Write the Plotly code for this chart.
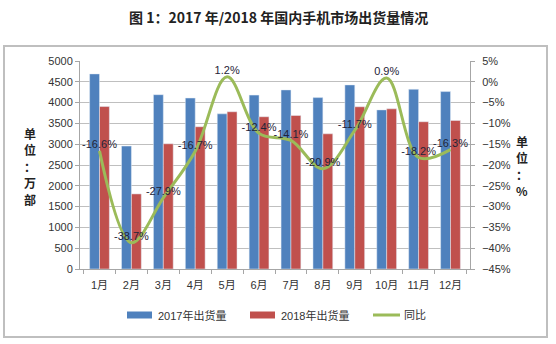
import plotly.graph_objects as go

months = ["1月", "2月", "3月", "4月", "5月", "6月", "7月", "8月", "9月", "10月", "11月", "12月"]
ship_2017 = [4690, 2955, 4190, 4110, 3730, 4180, 4305, 4120, 4425, 3825, 4320, 4265]
ship_2018 = [3905, 1805, 3010, 3420, 3780, 3660, 3690, 3250, 3900, 3850, 3540, 3570]
yoy = [-16.6, -38.7, -27.9, -16.7, 1.2, -12.4, -14.1, -20.9, -11.7, 0.9, -18.2, -16.3]
yoy_labels = [f"{v:.1f}%" for v in yoy]
series_names = ["2017年出货量", "2018年出货量", "同比"]
series_colors = ["#4F81BD", "#C0504D", "#9BBB59"]

FONT = "Liberation Sans, Noto Sans CJK SC, sans-serif"
CJK = "Noto Sans CJK SC"

# plot area in pixels: x 80..470, y 61..269
L, R, T, B = 80, 470, 61, 269
def px(x):
    return (x - L) / (R - L)
def py(y):
    return (B - y) / (B - T)

fig = go.Figure()
fig.add_trace(go.Bar(x=months, y=ship_2017, name=series_names[0], marker_color=series_colors[0]))
fig.add_trace(go.Bar(x=months, y=ship_2018, name=series_names[1], marker_color=series_colors[1]))
fig.add_trace(go.Scatter(
    x=months, y=yoy, name=series_names[2], yaxis="y2", mode="lines+text",
    line=dict(color=series_colors[2], width=3, shape="spline", smoothing=1.0),
    text=yoy_labels, textposition="top center",
    textfont=dict(size=11, color="#1F2437", family=FONT),
))

shapes = [dict(type="rect", xref="paper", yref="paper",
               x0=px(4), x1=px(547), y0=py(337), y1=py(46),
               line=dict(color="#BFBFBF", width=2), layer="below")]
annotations = [
    dict(text="<b>图 1：2017 年/2018 年国内手机市场出货量情况</b>", xref="paper", yref="paper",
         x=px(278), y=py(17), showarrow=False,
         font=dict(size=14, color="#222", family=CJK), xanchor="center", yanchor="middle"),
]
for ch, yy in zip(["单", "位", "：", "万", "部"], [133, 149.5, 166, 182.5, 199]):
    annotations.append(dict(text=f"<b>{ch}</b>", xref="paper", yref="paper", x=px(30), y=py(yy),
                            showarrow=False, font=dict(size=12, color="#222", family=CJK),
                            xanchor="center", yanchor="middle"))
for ch, yy in zip(["单", "位", "：", "%"], [141, 157.5, 174, 190.5]):
    annotations.append(dict(text=f"<b>{ch}</b>", xref="paper", yref="paper", x=px(522), y=py(yy),
                            showarrow=False, font=dict(size=12, color="#222", family=CJK),
                            xanchor="center", yanchor="middle"))

# legend drawn manually to match the wide swatches
leg_y = 315
swatch_x = [127, 250, 373]
for i, (name, col, sx) in enumerate(zip(series_names, series_colors, swatch_x)):
    if i < 2:
        shapes.append(dict(type="rect", xref="paper", yref="paper",
                           x0=px(sx), x1=px(sx + 25), y0=py(leg_y + 3.5), y1=py(leg_y - 3.5),
                           fillcolor=col, line=dict(width=0)))
    else:
        shapes.append(dict(type="line", xref="paper", yref="paper",
                           x0=px(sx), x1=px(sx + 27), y0=py(leg_y), y1=py(leg_y),
                           line=dict(color=col, width=3)))
    annotations.append(dict(text=name, xref="paper", yref="paper", x=px(sx + 29), y=py(leg_y),
                            showarrow=False, xanchor="left", yanchor="middle",
                            font=dict(size=11, color="#333", family=FONT)))

fig.update_layout(
    width=556, height=344,
    margin=dict(l=L, r=556 - R, t=T, b=344 - B),
    paper_bgcolor="white", plot_bgcolor="white",
    font=dict(family=FONT, size=11, color="#333"),
    barmode="group", bargap=0.38, bargroupgap=0,
    showlegend=False,
    xaxis=dict(showline=True, linecolor="#A6A6A6", ticks="outside", tickson="boundaries",
               ticklen=4, tickcolor="#A6A6A6", showgrid=False, tickangle=0,
               ticklabelstandoff=6, tickfont=dict(size=11)),
    yaxis=dict(range=[0, 5000], dtick=500, showline=True, linecolor="#A6A6A6",
               ticks="outside", ticklen=4, tickcolor="#A6A6A6",
               gridcolor="#BFBFBF", gridwidth=1, zeroline=False, tickfont=dict(size=11)),
    yaxis2=dict(range=[-45, 5], dtick=5, ticksuffix="%", overlaying="y", side="right",
                showline=True, linecolor="#A6A6A6", ticks="outside", ticklen=4,
                tickcolor="#A6A6A6", showgrid=False, zeroline=False,
                ticklabelstandoff=5, tickfont=dict(size=11)),
    shapes=shapes,
    annotations=annotations,
)

fig.write_html("out.html")
